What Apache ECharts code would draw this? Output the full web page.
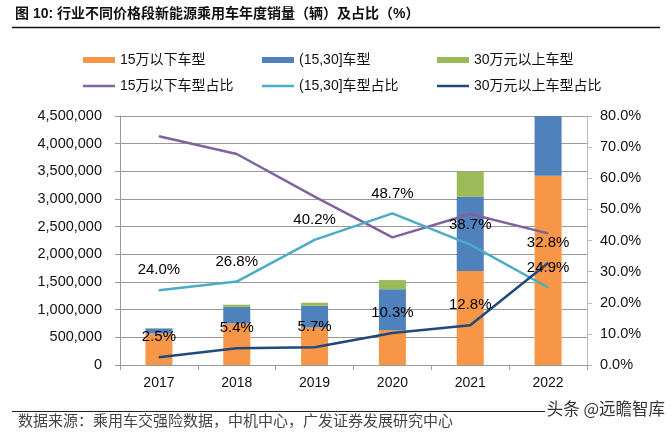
<!DOCTYPE html>
<html><head><meta charset="utf-8">
<script src="https://cdn.jsdelivr.net/npm/echarts@6/dist/echarts.min.js"></script>
<style>html,body{margin:0;padding:0;background:#fff}#c{width:672px;height:434px}</style>
</head><body><div id="c"></div>
<script>
var categories = ['2017','2018','2019','2020','2021','2022'];
var under15 = [570000, 750000, 680000, 630000, 1700000, 3420000];
var mid15to30 = [90000, 300000, 390000, 740000, 1340000, 2010000];
var above30 = [6000, 40000, 55000, 165000, 450000, 2650000];
var shareUnder15 = [73.5, 67.8, 54.1, 41.0, 48.5, 42.3];
var shareMid = [24.0, 26.8, 40.2, 48.7, 38.7, 24.9];
var shareAbove30 = [2.5, 5.4, 5.7, 10.3, 12.8, 32.8];
var names = ['15万以下车型','(15,30]车型','30万元以上车型','15万以下车型占比','(15,30]车型占比','30万元以上车型占比'];
var colors = ['#F79646','#4F81BD','#9BBB59','#7F62A0','#4BACC6','#1F497D'];

var FONT = '"Liberation Sans", "Noto Sans CJK SC", sans-serif';
var chart = echarts.init(document.getElementById('c'), null, {renderer:'canvas'});

var legendPos = [[78,59],[257,59],[432,59],[78,85],[257,85],[432,85]];
var legends = names.map(function(n,i){
  return {
    data:[{name:n, icon:'rect'}],
    left: legendPos[i][0], top: legendPos[i][1]-12,
    itemWidth: 32, itemHeight: i<3 ? 6 : 2.5, selectedMode:false,
    textStyle:{fontSize:14, color:'#111', fontFamily:FONT, lineHeight:16}
  };
});

function barSeries(i, data){
  return {name:names[i], type:'bar', stack:'s', data:data, barWidth:27,
    itemStyle:{color:colors[i]}, clip:true};
}
function lineSeries(i, data, label){
  return {name:names[i], type:'line', yAxisIndex:1, data:data, symbol:'circle', symbolSize:1, showSymbol:true,
    lineStyle:{color:colors[i], width:2.5}, itemStyle:{color:colors[i]},
    label:{show:label, position:'top', distance:12, fontSize:15, color:'#000', fontFamily:FONT,
      formatter:function(p){return p.value.toFixed(1)+'%';}}, z:3};
}

chart.setOption({
  animation:false,
  color:colors,
  legend:legends,
  grid:{left:120, right:85, top:116, bottom:69},
  xAxis:{type:'category', data:categories, boundaryGap:true,
    axisLine:{lineStyle:{color:'#999'}},
    axisTick:{show:true, length:5, lineStyle:{color:'#999'}},
    axisLabel:{fontSize:14, color:'#111', margin:11, fontFamily:FONT}},
  yAxis:[
    {type:'value', min:0, max:4500000, interval:500000, position:'left',
     axisLine:{show:true, lineStyle:{color:'#999'}},
     axisTick:{show:true, length:5, lineStyle:{color:'#999'}},
     splitLine:{lineStyle:{color:'#999'}},
     axisLabel:{fontSize:14.5, color:'#111', margin:18, fontFamily:FONT,
       formatter:function(v){return v.toLocaleString('en-US');}}},
    {type:'value', min:0, max:80, interval:10, position:'right',
     axisLine:{show:true, lineStyle:{color:'#bbb'}},
     axisTick:{show:true, length:5, lineStyle:{color:'#bbb'}},
     splitLine:{show:false},
     axisLabel:{fontSize:14.5, color:'#111', margin:13, fontFamily:FONT,
       formatter:function(v){return v.toFixed(1)+'%';}}}
  ],
  series:[
    barSeries(0, under15), barSeries(1, mid15to30), barSeries(2, above30),
    lineSeries(3, shareUnder15, false), lineSeries(4, shareMid, true), lineSeries(5, shareAbove30, true)
  ],
  graphic:[
    {type:'text', left:15, top:7, style:{text:'图 10: 行业不同价格段新能源乘用车年度销量（辆）及占比（%）', font:'bold 14px '+FONT, fill:'#111'}},
    {type:'line', shape:{x1:12, y1:27.5, x2:660, y2:27.5}, style:{stroke:'#111', lineWidth:1.5}},
    {type:'line', shape:{x1:12, y1:411.5, x2:545, y2:411.5}, style:{stroke:'#222', lineWidth:1}},
    {type:'text', left:18, top:413, style:{text:'数据来源：乘用车交强险数据，中机中心，广发证券发展研究中心', font:'15px "Noto Sans CJK SC", sans-serif', fill:'#444'}},
    {type:'text', right:7, top:400, style:{text:'头条 @远瞻智库', font:'16.5px "Noto Sans CJK SC", sans-serif', fill:'#333'}}
  ]
});
</script></body></html>
